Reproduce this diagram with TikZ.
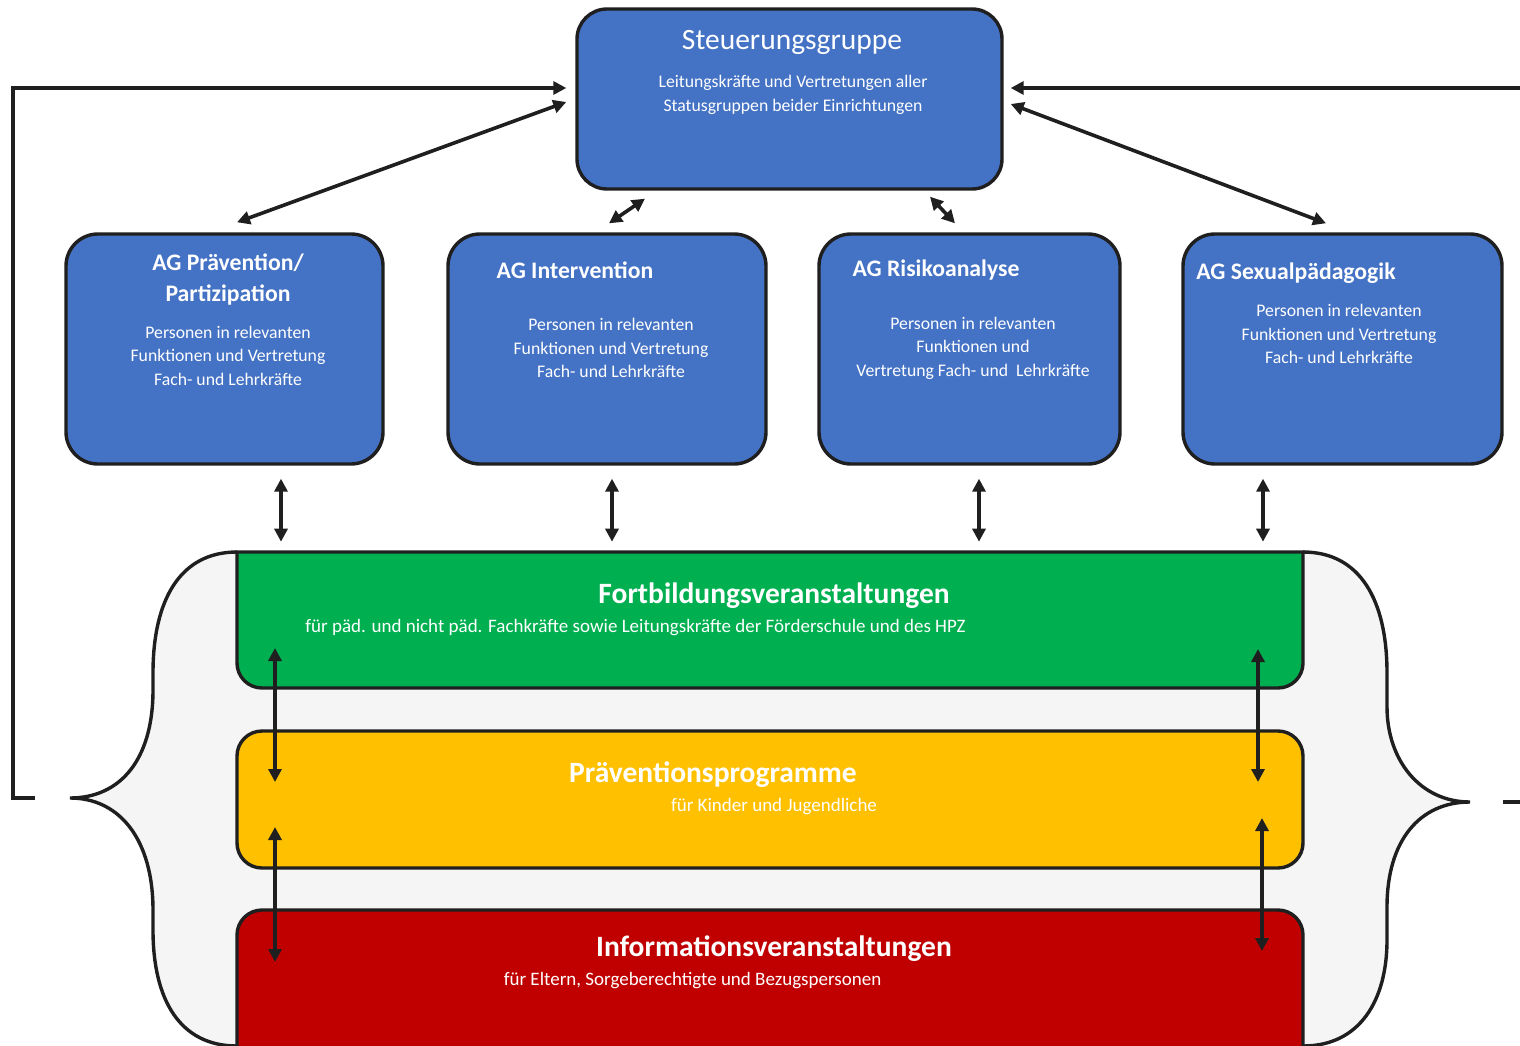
\documentclass[tikz,border=0pt]{standalone}
\usepackage{fontspec}
\setmainfont{Carlito}
\usetikzlibrary{arrows.meta}

\definecolor{agblue}{HTML}{4472C4}
\definecolor{fortgreen}{HTML}{00B050}
\definecolor{praevyellow}{HTML}{FFC000}
\definecolor{infored}{HTML}{C00000}
\definecolor{linedark}{HTML}{1F1F1F}
\definecolor{bracegray}{HTML}{F5F5F5}

\tikzset{
  agbox/.style={draw=linedark, line width=3.4pt, fill=agblue, rounded corners=32pt, inner sep=0pt},
  bandbox/.style={draw=linedark, line width=3.4pt, rounded corners=25pt, inner sep=0pt, minimum width=1066pt},
  dbl/.style={draw=linedark, line width=3.6pt, {Triangle[length=13pt,width=13pt]}-{Triangle[length=13pt,width=13pt]}},
  sgl/.style={draw=linedark, line width=3.6pt, -{Triangle[length=13pt,width=13pt]}},
  wtxt/.style={text=white, inner sep=0pt, align=center, yshift=-2pt},
  small/.style={wtxt, font=\fontsize{17.7}{23.5}\selectfont},
  bandsub/.style={wtxt, font=\fontsize{19}{23}\selectfont},
  agtitle/.style={wtxt, font=\bfseries\fontsize{23.7}{31}\selectfont},
  bandtitle/.style={wtxt, font=\bfseries\fontsize{29.5}{32}\selectfont}
}

\begin{document}
\begin{tikzpicture}[x=1pt,y=-1pt]
\useasboundingbox (0,0) rectangle (1520,1046);

%grey area between the two braces
\fill[bracegray] (237,552) .. controls (180,552) and (153,600) .. (153,673) -- (153,690)
  .. controls (153,760) and (120,798) .. (70,798)
  .. controls (120,798) and (153,840) .. (153,910) -- (153,930)
  .. controls (153,1000) and (180,1046) .. (237,1046)
  -- (1303,1046) .. controls (1360,1046) and (1387,1000) .. (1387,940) -- (1387,907)
  .. controls (1387,840) and (1420,802) .. (1470,802)
  .. controls (1420,802) and (1387,760) .. (1387,707) -- (1387,673)
  .. controls (1387,600) and (1360,552) .. (1303,552) -- cycle;
%left brace
\draw[linedark,line width=3.4pt] (237,552) .. controls (180,552) and (153,600) .. (153,673) -- (153,690)
  .. controls (153,760) and (120,798) .. (70,798)
  .. controls (120,798) and (153,840) .. (153,910) -- (153,930)
  .. controls (153,1000) and (180,1046) .. (237,1046);
%right brace
\draw[linedark,line width=3.4pt] (1303,552) .. controls (1360,552) and (1387,600) .. (1387,673) -- (1387,707)
  .. controls (1387,760) and (1420,802) .. (1470,802)
  .. controls (1420,802) and (1387,840) .. (1387,907) -- (1387,940)
  .. controls (1387,1000) and (1360,1046) .. (1303,1046);

%bands
\draw[draw=linedark,line width=3.4pt,fill=fortgreen] (237,620) -- (237,552) -- (1303,552) -- (1303,620)
  [rounded corners=25pt] -- (1303,688) -- (237,688) -- (237,620) -- cycle;
\node[bandbox, fill=praevyellow, minimum height=137pt] (praev) at (770,799.5) {};
\node[bandbox, fill=infored, minimum height=190pt] (info) at (770,1005) {};

\node[bandtitle] (forttitle) at (774,594) {Fortbildungsveranstaltungen};
\node[bandsub] (forttext) at (635.5,626) {für päd. und nicht päd. Fachkräfte sowie Leitungskräfte der Förderschule und des HPZ};
\node[bandtitle] (praevtitle) at (713,773) {Präventionsprogramme};
\node[bandsub] (praevtext) at (774,805) {für Kinder und Jugendliche};
\node[bandtitle] (infotitle) at (774,947) {Informationsveranstaltungen};
\node[bandsub] (infotext) at (692.5,979) {für Eltern, Sorgeberechtigte und Bezugspersonen};

%arrows between the bands
\coordinate (gl) at (275,648);
\coordinate (yl) at (275,782);
\coordinate (yl2) at (275,827);
\coordinate (rl) at (275,962);
\coordinate (gr) at (1258,649);
\coordinate (yr) at (1258,782);
\coordinate (yr2) at (1262,818);
\coordinate (rr) at (1262,951);
\draw[dbl] (gl) -- (yl);
\draw[dbl] (yl2) -- (rl);
\draw[dbl] (gr) -- (yr);
\draw[dbl] (yr2) -- (rr);

%steering group
\node[agbox, rounded corners=30pt, minimum width=425pt, minimum height=180pt] (steuer) at (789.5,99) {};
\node[wtxt, font=\fontsize{29.5}{32}\selectfont] (steuertitle) at (792,40) {Steuerungsgruppe};
\node[small] (steuertext) at (793,93) {Leitungskräfte und Vertretungen aller\\Statusgruppen beider Einrichtungen};

%working groups
\node[agbox, minimum width=317pt, minimum height=230pt] (ag1) at (224.5,349) {};
\node[agbox, minimum width=318pt, minimum height=230pt] (ag2) at (607,349) {};
\node[agbox, minimum width=301pt, minimum height=230pt] (ag3) at (969.5,349) {};
\node[agbox, minimum width=319pt, minimum height=230pt] (ag4) at (1342.5,349) {};

\node[agtitle] (ag1title) at (228,277.5) {AG Prävention/\\Partizipation};
\node[small] (ag1text) at (228,353.5) {Personen in relevanten\\Funktionen und Vertretung\\Fach- und Lehrkräfte};
\node[agtitle] (ag2title) at (575,268) {AG Intervention};
\node[small] (ag2text) at (611,346) {Personen in relevanten\\Funktionen und Vertretung\\Fach- und Lehrkräfte};
\node[agtitle] (ag3title) at (936,268) {AG Risikoanalyse};
\node[small] (ag3text) at (973,346) {Personen in relevanten\\Funktionen und\\Vertretung Fach- und \ Lehrkräfte};
\node[agtitle] (ag4title) at (1296,271) {AG Sexualpädagogik};
\node[small] (ag4text) at (1339,332) {Personen in relevanten\\Funktionen und Vertretung\\Fach- und Lehrkräfte};

%steering group <-> working groups
\draw[dbl] ([xshift=-9pt,yshift=-3pt]steuer.west) -- ([xshift=12.5pt,yshift=10pt]ag1.north);
\draw[dbl] ([xshift=-144.5pt,yshift=-8pt]steuer.south) -- ([xshift=2pt,yshift=9pt]ag2.north);
\draw[dbl] ([xshift=140.5pt,yshift=-6pt]steuer.south) -- ([xshift=-14.5pt,yshift=9pt]ag3.north);
\draw[dbl] ([xshift=7pt,yshift=-5pt]steuer.east) -- ([xshift=-16.5pt,yshift=9pt]ag4.north);

%working groups <-> bands
\draw[dbl] ([xshift=56.5pt,yshift=-13pt]ag1.south) -- ++(0,63);
\draw[dbl] ([xshift=5pt,yshift=-13pt]ag2.south) -- ++(0,63);
\draw[dbl] ([xshift=9.5pt,yshift=-13pt]ag3.south) -- ++(0,63);
\draw[dbl] ([xshift=-79.5pt,yshift=-13pt]ag4.south) -- ++(0,63);

%feedback lines
\coordinate (fbl) at (35,798);
\coordinate (fbr) at (1520,88);
\draw[sgl] (fbl) -- (13,798) -- (13,88) -- ([xshift=-9pt,yshift=11pt]steuer.west);
\draw[sgl] (fbr) -- ([xshift=7pt,yshift=11pt]steuer.east);
\draw[linedark,line width=3.6pt] (1503,802) -- (1520,802);

\end{tikzpicture}
\end{document}
